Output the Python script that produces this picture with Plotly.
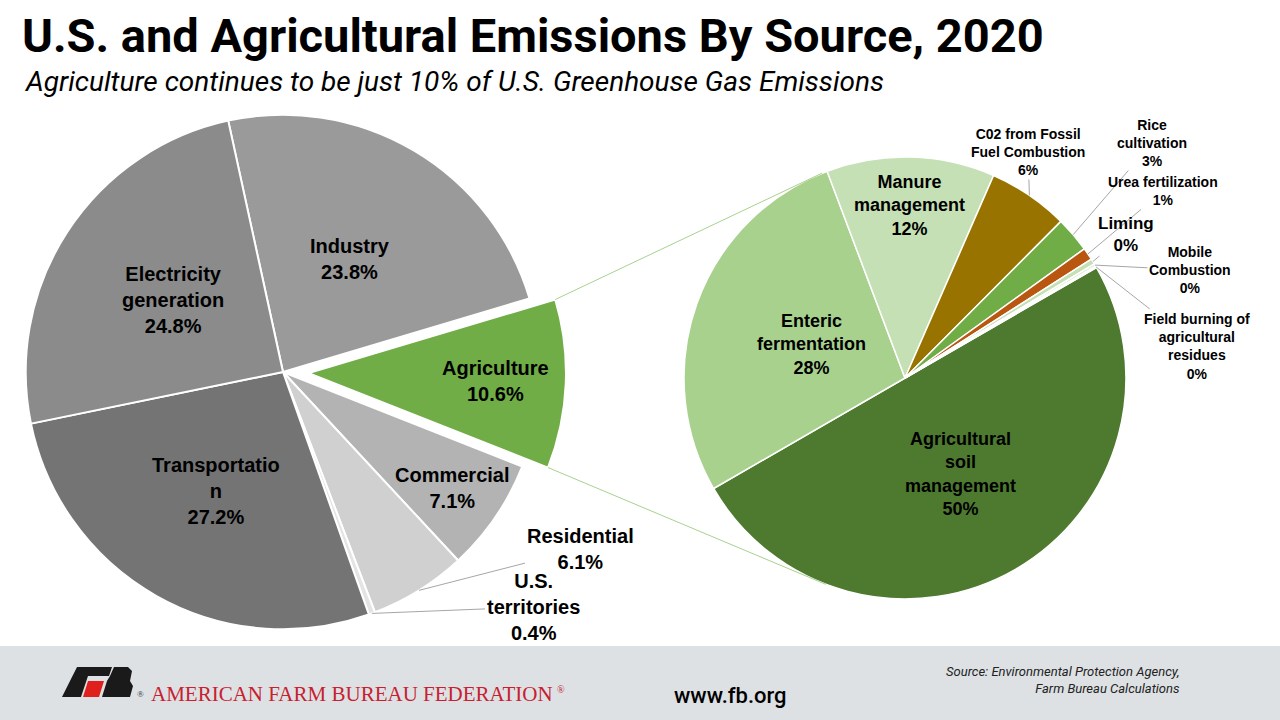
#!/usr/bin/env python3
"""
U.S. and agricultural greenhouse gas emissions by source, 2020
Two pies: economy-wide sectors and the breakdown of agriculture
"""

import math
import plotly.graph_objects as go

# U.S. emissions by sector, 2020 (% of total), clockwise from the top
us_sectors = ["Industry", "Agriculture", "Commercial", "Residential",
              "U.S. territories", "Transportation", "Electricity generation"]
us_display = ["Industry", "Agriculture", "Commercial", "Residential",
              "U.S.<br>territories", "Transportatio<br>n", "Electricity<br>generation"]
us_shares = [23.8, 10.6, 7.1, 6.1, 0.4, 27.2, 24.8]

# Agricultural emissions by source, 2020 (% of agriculture)
ag_sources = ["Agricultural soil management", "Enteric fermentation", "Manure management",
              "C02 from Fossil Fuel Combustion", "Rice cultivation", "Urea fertilization",
              "Liming", "Mobile Combustion", "Field burning of agricultural residues"]
ag_display = ["Agricultural<br>soil<br>management", "Enteric<br>fermentation", "Manure<br>management",
              "C02 from Fossil<br>Fuel Combustion", "Rice<br>cultivation", "Urea fertilization",
              "Liming", "Mobile<br>Combustion", "Field burning of<br>agricultural<br>residues"]
ag_shares = [50.0, 27.6, 12.3, 5.9, 2.6, 0.9, 0.4, 0.2, 0.1]

W, H = 1280, 720

# styling
us_colors = ["#9a9a9a", "#70ad47", "#b3b3b3", "#d0d0d0", "#e4e4e4", "#747474", "#8b8b8b"]
ag_colors = ["#4e7a30", "#a9d18e", "#c5e0b4", "#997300", "#70ad47", "#b9560f",
             "#c5e0b4", "#e2f0d9", "#d6e9cb"]
us_pull = [0, 0.1, 0, 0, 0, 0, 0]

# pie placement in pixels
L_CX, L_CY, L_BOX = 283, 372, 566
L_ROT = -12.3
R_CX, R_CY, R_RAD = 905, 378, 221
R_ROT = 60

# label placement: ("in", radial fraction) or ("out", label centre px)
us_label_pos = [("in", 0.51), ("in", 0.725), ("in", 0.80), ("out", (580, 549)),
                ("out", (533, 607)), ("in", 0.53), ("in", 0.51)]
ag_label_pos = [("in", 0.50), ("in", 0.45), ("in", 0.78), ("out", (1028, 152)),
                ("out", (1152, 143)), ("out", (1163, 191)), ("out", (1126, 234)),
                ("out", (1190, 270)), ("out", (1197, 346))]
ag_label_size = [18, 18, 18, 14, 14, 14, 17, 14, 14]
CONNECT_ANGLES = (338, 201)


def px(x):
    return x / W


def py(y):
    return 1 - y / H


def slice_spans(values, rotation):
    total = sum(values)
    spans, start = [], rotation
    for v in values:
        end = start + v / total * 360
        spans.append((start, end))
        start = end
    return spans


def polar(cx, cy, r, deg):
    a = math.radians(deg)
    return cx + r * math.sin(a), cy - r * math.cos(a)


fig = go.Figure()

fig.add_trace(go.Pie(
    labels=us_sectors, values=us_shares, sort=False, direction="clockwise",
    rotation=L_ROT, pull=us_pull, textinfo="none", hoverinfo="label+percent",
    marker=dict(colors=us_colors, line=dict(color="white", width=2)),
    domain=dict(x=[px(L_CX - L_BOX / 2), px(L_CX + L_BOX / 2)],
                y=[py(L_CY + L_BOX / 2), py(L_CY - L_BOX / 2)]),
))

fig.add_trace(go.Pie(
    labels=ag_sources, values=ag_shares, sort=False, direction="clockwise",
    rotation=R_ROT, textinfo="none", hoverinfo="label+percent",
    marker=dict(colors=ag_colors, line=dict(color="white", width=1.5)),
    domain=dict(x=[px(R_CX - R_RAD), px(R_CX + R_RAD)],
                y=[py(R_CY + R_RAD), py(R_CY - R_RAD)]),
))

annotations = []
shapes = []
LABEL_FONT = "Liberation Sans, Arial, sans-serif"


def add_labels(display, values, spans, pos, pulls, cx, cy, rad, sizes, fmt):
    for i, (d, v) in enumerate(zip(display, values)):
        s, e = spans[i]
        mid = (s + e) / 2
        ox, oy = polar(cx, cy, pulls[i] * rad, mid)
        text = f"<b>{d}<br>{fmt(v)}</b>"
        font = dict(family=LABEL_FONT, size=sizes[i], color="black")
        kind, p = pos[i]
        if kind == "in":
            lx, ly = polar(ox, oy, p * rad, mid)
            annotations.append(dict(x=px(lx), y=py(ly), xref="paper", yref="paper",
                                    text=text, showarrow=False, font=font,
                                    xanchor="center", yanchor="middle"))
        else:
            tx, ty = polar(ox, oy, rad, mid)
            annotations.append(dict(x=px(tx), y=py(ty), xref="paper", yref="paper",
                                    text=text, showarrow=True, arrowhead=0,
                                    arrowwidth=1, arrowcolor="#a6a6a6",
                                    ax=p[0] - tx, ay=p[1] - ty, font=font))


l_rad = L_BOX / (2 * (1 + max(us_pull)))
l_spans = slice_spans(us_shares, L_ROT)
add_labels(us_display, us_shares, l_spans, us_label_pos, us_pull,
           L_CX, L_CY, l_rad, [20] * len(us_shares), lambda v: f"{v:.1f}%")

r_spans = slice_spans(ag_shares, R_ROT)
add_labels(ag_display, ag_shares, r_spans, ag_label_pos, [0] * len(ag_shares),
           R_CX, R_CY, R_RAD, ag_label_size, lambda v: f"{round(v)}%")

# connector lines from the pulled agriculture slice to the breakdown pie
ag_idx = us_sectors.index("Agriculture")
a0, a1 = l_spans[ag_idx]
amid = (a0 + a1) / 2
pcx, pcy = polar(L_CX, L_CY, us_pull[ag_idx] * l_rad, amid)
for corner, target in zip((a0, a1), CONNECT_ANGLES):
    x0, y0 = polar(pcx, pcy, l_rad, corner)
    x1, y1 = polar(R_CX, R_CY, R_RAD, target)
    shapes.append(dict(type="line", xref="paper", yref="paper",
                       x0=px(x0), y0=py(y0), x1=px(x1), y1=py(y1),
                       line=dict(color="#a9d18e", width=1)))

# footer band
shapes.append(dict(type="rect", xref="paper", yref="paper", x0=0, x1=1,
                   y0=0, y1=py(646), fillcolor="#dde1e4", line=dict(width=0),
                   layer="below"))


def path(points):
    return "M " + " L ".join(f"{px(x):.5f},{py(y):.5f}" for x, y in points) + " Z"


logo_black_f = [(77, 667), (112, 667), (109, 676), (88, 676), (81, 697), (62, 697)]
logo_red = [(88, 681), (104, 681), (99, 697), (83, 697)]
logo_black_b = [(114, 667), (128, 667), (132, 671), (130, 681), (133, 686),
                (130, 697), (102, 697), (107, 681), (110, 676)]
for pts, col in [(logo_black_f, "#1a1a1a"), (logo_red, "#e0201c"), (logo_black_b, "#1a1a1a")]:
    shapes.append(dict(type="path", xref="paper", yref="paper", path=path(pts),
                       fillcolor=col, line=dict(width=0)))

# titles and footer text
annotations += [
    dict(x=px(20), y=py(35), xref="paper", yref="paper", xanchor="left", yanchor="middle",
         text="<b>U.S. and Agricultural Emissions By Source, 2020</b>", showarrow=False,
         font=dict(family="Roboto, Arial, sans-serif", size=47, color="black")),
    dict(x=px(22), y=py(81), xref="paper", yref="paper", xanchor="left", yanchor="middle",
         text="<i>Agriculture continues to be just 10% of U.S. Greenhouse Gas Emissions</i>",
         showarrow=False, font=dict(family="Roboto, Arial, sans-serif", size=28, color="black")),
    dict(x=px(135), y=py(694), xref="paper", yref="paper", xanchor="left", yanchor="middle",
         text="®", showarrow=False,
         font=dict(family="Liberation Serif, serif", size=9, color="#333333")),
    dict(x=px(149), y=py(694), xref="paper", yref="paper", xanchor="left", yanchor="middle",
         text="AMERICAN FARM BUREAU FEDERATION", showarrow=False,
         font=dict(family="Liberation Serif, Times New Roman, serif", size=21, color="#c8202f")),
    dict(x=px(555), y=py(689), xref="paper", yref="paper", xanchor="left", yanchor="middle",
         text="®", showarrow=False,
         font=dict(family="Liberation Serif, serif", size=10, color="#c8202f")),
    dict(x=px(730), y=py(695), xref="paper", yref="paper", xanchor="center", yanchor="middle",
         text="www.fb.org", showarrow=False,
         font=dict(family="Roboto, Arial, sans-serif", size=22, color="black", weight=500)),
    dict(x=px(1182), y=py(680), xref="paper", yref="paper", xanchor="right", yanchor="middle",
         align="right", text="<i>Source: Environmental Protection Agency,<br>Farm Bureau Calculations</i>",
         showarrow=False, font=dict(family="Roboto, Arial, sans-serif", size=13, color="#222222")),
]

fig.update_layout(
    width=W, height=H,
    margin=dict(l=0, r=0, t=0, b=0),
    paper_bgcolor="white", plot_bgcolor="white",
    showlegend=False,
    annotations=annotations,
    shapes=shapes,
)

fig.write_html("out.html", config={"displayModeBar": False},
               post_script="document.body.style.margin='0';")
